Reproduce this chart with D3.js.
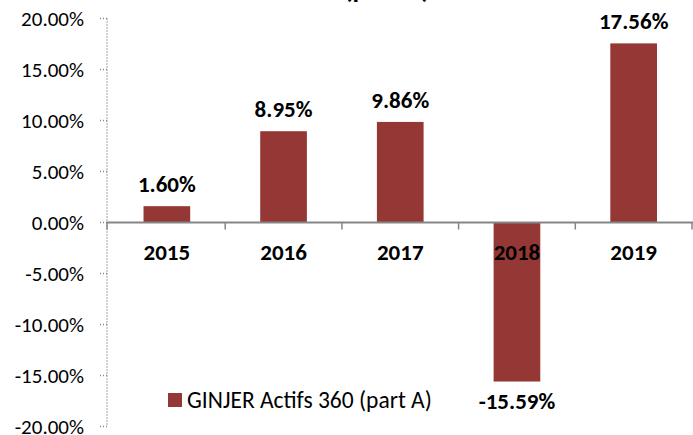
<!DOCTYPE html>
<meta charset="utf-8">
<style>
body { margin: 0; background: #fff; }
text { font-family: Carlito, "Open Sans", sans-serif; fill: #000; }
.ticklbl { font-size: 21px; }
.cat { font-size: 23px; font-weight: bold; }
.val { font-size: 23px; font-weight: bold; }
.legend { font-size: 23.5px; }
.title { font-size: 27px; font-weight: bold; }
</style>
<svg width="693" height="435"></svg>
<script src="https://d3js.org/d3.v7.min.js"></script>
<script>
var years = ["2015", "2016", "2017", "2018", "2019"];
var perf = [1.60, 8.95, 9.86, -15.59, 17.56];
var yTicks = [20, 15, 10, 5, 0, -5, -10, -15, -20];
var seriesName = "GINJER Actifs 360 (part A)";

var svg = d3.select("svg");
var barColor = "#953735";
var axisColor = "#868686";

var x = d3.scaleBand()
    .domain(years)
    .range([108.5, 692])
    .paddingInner(0.6)
    .paddingOuter(0.3);

var y = d3.scaleLinear()
    .domain([-20, 20])
    .range([426.5, 18.5]);

var axisX = 107;

// title (mostly cut off at the top)
svg.append("text")
    .attr("class", "title")
    .attr("x", 387)
    .attr("y", -2)
    .attr("text-anchor", "middle")
    .text("(part A)");

// dotted y axis
svg.append("line")
    .attr("x1", axisX).attr("x2", axisX)
    .attr("y1", y(20)).attr("y2", y(-20))
    .attr("stroke", axisColor)
    .attr("stroke-width", 1.5)
    .attr("stroke-dasharray", "1,2");

svg.selectAll(".ytick")
    .data(yTicks)
    .enter().append("line")
    .attr("x1", axisX - 7).attr("x2", axisX)
    .attr("y1", function(d) { return y(d); })
    .attr("y2", function(d) { return y(d); })
    .attr("stroke", axisColor)
    .attr("stroke-width", 1.5)
    .attr("stroke-dasharray", "1,2");

svg.selectAll(".ticklbl")
    .data(yTicks)
    .enter().append("text")
    .attr("class", "ticklbl")
    .attr("x", 84)
    .attr("y", function(d) { return y(d); })
    .attr("dy", "0.35em")
    .attr("text-anchor", "end")
    .text(function(d) { return d.toFixed(2) + "%"; });

// bars
svg.selectAll(".bar")
    .data(perf)
    .enter().append("rect")
    .attr("class", "bar")
    .attr("x", function(d, i) { return x(years[i]); })
    .attr("width", x.bandwidth())
    .attr("y", function(d) { return y(Math.max(0, d)); })
    .attr("height", function(d) { return Math.abs(y(d) - y(0)); })
    .attr("fill", barColor);

// x axis line + ticks at category boundaries
var step = x.step();
var x0 = x.range()[0];
svg.append("line")
    .attr("x1", axisX).attr("x2", 693)
    .attr("y1", y(0)).attr("y2", y(0))
    .attr("stroke", axisColor)
    .attr("stroke-width", 2);

svg.selectAll(".xtick")
    .data(d3.range(years.length + 1))
    .enter().append("line")
    .attr("x1", function(i) { return i === 0 ? axisX : x0 + i * step; })
    .attr("x2", function(i) { return i === 0 ? axisX : x0 + i * step; })
    .attr("y1", y(0))
    .attr("y2", y(0) + 7)
    .attr("stroke", axisColor)
    .attr("stroke-width", 1.5);

// category labels (drawn over bars)
svg.selectAll(".cat")
    .data(years)
    .enter().append("text")
    .attr("class", "cat")
    .attr("x", function(d) { return x(d) + x.bandwidth() / 2; })
    .attr("y", 260)
    .attr("text-anchor", "middle")
    .text(function(d) { return d; });

// value labels
svg.selectAll(".val")
    .data(perf)
    .enter().append("text")
    .attr("class", "val")
    .attr("x", function(d, i) { return x(years[i]) + x.bandwidth() / 2; })
    .attr("y", function(d) { return d >= 0 ? y(d) - 14 : y(d) + 27; })
    .attr("text-anchor", "middle")
    .text(function(d) { return d.toFixed(2) + "%"; });

// legend
var legend = svg.append("g").attr("transform", "translate(168,393)");
legend.append("rect")
    .attr("width", 14).attr("height", 14)
    .attr("fill", barColor);
legend.append("text")
    .attr("class", "legend")
    .attr("x", 19)
    .attr("y", 15)
    .text(seriesName);
</script>
